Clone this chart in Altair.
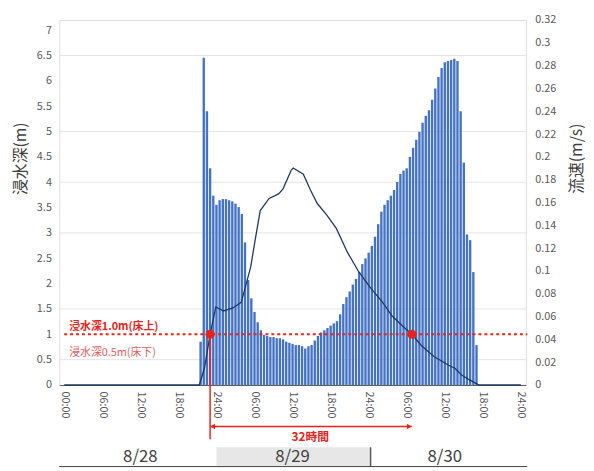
import altair as alt
import pandas as pd
import numpy as np

FONT = "Noto Sans CJK JP"

# --- data -------------------------------------------------------------
# velocity bars (m/s), 30-minute steps, hours from 8/28 00:00
bar_hours = list(np.arange(21.5, 65.01, 0.5))
velocity = [0.038, 0.287, 0.240, 0.190, 0.166, 0.158, 0.162, 0.163, 0.163, 0.162,
            0.161, 0.159, 0.156, 0.150, 0.125, 0.092, 0.076, 0.064, 0.055, 0.048,
            0.044, 0.043, 0.042, 0.042, 0.041, 0.041, 0.040, 0.038, 0.037, 0.036,
            0.035, 0.035, 0.034, 0.032, 0.034, 0.035, 0.039, 0.043, 0.046, 0.048,
            0.050, 0.052, 0.054, 0.056, 0.062, 0.071, 0.077, 0.082, 0.088, 0.093,
            0.099, 0.106, 0.111, 0.116, 0.122, 0.130, 0.141, 0.152, 0.158, 0.162,
            0.166, 0.171, 0.178, 0.185, 0.188, 0.190, 0.200, 0.208, 0.215, 0.222,
            0.230, 0.236, 0.241, 0.250, 0.260, 0.270, 0.278, 0.283, 0.284, 0.285,
            0.286, 0.284, 0.240, 0.195, 0.132, 0.127, 0.099, 0.035]

# inundation depth line (m)
depth_hours = [0, 21.3, 22.1, 23.0, 23.9, 25.1, 26.6, 27.9, 28.6, 29.4, 30.1, 30.9,
               32.3, 33.8, 34.5, 35.8, 36.1, 37.7, 38.8, 39.9, 41.4, 42.9, 44.6,
               46.4, 48.2, 50.2, 51.7, 53.3, 54.8, 56.3, 58.3, 60.6, 61.6, 62.7,
               63.9, 65.4, 72]
depth = [0, 0, 0.33, 1.0, 1.54, 1.46, 1.52, 1.63, 1.95, 2.33, 2.86, 3.44,
         3.68, 3.77, 3.87, 4.24, 4.28, 4.16, 3.85, 3.58, 3.35, 3.09, 2.63,
         2.24, 1.93, 1.63, 1.36, 1.17, 1.0, 0.78, 0.56, 0.39, 0.33, 0.19,
         0.10, 0, 0]

x_ticks = list(range(0, 73, 6))
left_ticks = [i * 0.5 for i in range(15)]
right_ticks = [i * 0.02 for i in range(17)]
grid_values = [0.5, 1.5, 3, 4, 5, 6.5]

threshold = 1.0
cross_hours = [23.0, 54.8]
duration_label = "32時間"
dates = ["8/28", "8/29", "8/30"]
date_centers = [12, 36, 60]

# --- scales / axes ------------------------------------------------------
xs = alt.Scale(domain=[0, 72], nice=False, zero=False)
yl = alt.Scale(domain=[0, 7.2], nice=False)
yr = alt.Scale(domain=[0, 0.32], nice=False)

label_expr = ("datum.value == 0 ? '00:00' : (datum.value % 24 == 0 ? '24:00' : "
              "((datum.value % 24 < 10 ? '0' : '') + (datum.value % 24) + ':00'))")

x_axis = alt.Axis(values=x_ticks, labelExpr=label_expr, labelAngle=90, labelAlign="left",
                  labelBaseline="middle", labelPadding=6, ticks=False, grid=False,
                  domainColor="#595959", domainWidth=1, labelColor="#595959",
                  labelFont=FONT, labelFontSize=11, title=None)

left_axis = alt.Axis(
    orient="left", values=left_ticks, format=".1~f", grid=False, ticks=False,
    domain=False, labelColor="#595959", labelFont=FONT, labelFontSize=11,
    labelPadding=8, title="浸水深(m)", titleFont=FONT, titleFontSize=16,
    titleFontWeight="normal", titleColor="#404040", titleAngle=270,
    titleX=-39, titleY=140, titleAlign="center", titleBaseline="middle")

right_axis = alt.Axis(
    orient="right", values=right_ticks, format=".2~f", grid=False, ticks=False,
    domain=False, labelColor="#595959", labelFont=FONT, labelFontSize=11,
    labelPadding=9, title="流速(m/s)", titleFont=FONT, titleFontSize=16,
    titleFontWeight="normal", titleColor="#404040", titleAngle=270,
    titleX=51, titleY=140, titleAlign="center", titleBaseline="middle")


def X(field):
    return alt.X(field, scale=xs, axis=x_axis)


def YL(field):
    return alt.Y(field, scale=yl, axis=left_axis)


# grid
grid = alt.Chart(pd.DataFrame({"g": grid_values})).mark_rule(
    color="#e4e4e4", strokeWidth=1).encode(
    y=alt.Y("g:Q", scale=yl, axis=None),
    x=alt.value(0), x2=alt.value(473))

# bars
bars = alt.Chart(pd.DataFrame({"h": bar_hours, "v": velocity})).mark_bar(
    color="#4472C4", width=2.4).encode(
    x=X("h:Q"),
    y=alt.Y("v:Q", scale=yr, axis=right_axis))

# depth line
line = alt.Chart(pd.DataFrame({"h": depth_hours, "y": depth})).mark_line(
    color="#1F3864", strokeWidth=1.3).encode(x=X("h:Q"), y=YL("y:Q"))

RED = "#E8231B"

thr = alt.Chart(pd.DataFrame({"h": [0], "h2": [73], "y": [threshold]})).mark_rule(
    color=RED, strokeWidth=2, strokeDash=[3, 3]).encode(
    x=X("h:Q"), x2="h2:Q", y=YL("y:Q"))

lbl1 = alt.Chart(pd.DataFrame({"h": [0.8], "y": [1.15], "t": ["浸水深1.0m(床上)"]})).mark_text(
    align="left", baseline="middle", font=FONT, fontSize=11, fontWeight="bold", color=RED
).encode(x=X("h:Q"), y=YL("y:Q"), text="t:N")
lbl2 = alt.Chart(pd.DataFrame({"h": [0.8], "y": [0.64], "t": ["浸水深0.5m(床下)"]})).mark_text(
    align="left", baseline="middle", font=FONT, fontSize=11, fontWeight="normal", color="#E06060"
).encode(x=X("h:Q"), y=YL("y:Q"), text="t:N")

dots = alt.Chart(pd.DataFrame({"h": cross_hours, "y": [threshold] * 2})).mark_circle(
    color=RED, size=85, opacity=1).encode(x=X("h:Q"), y=YL("y:Q"))

vline = alt.Chart(pd.DataFrame({"h": [cross_hours[0]], "y": [threshold], "y2": [-1.07]})).mark_rule(
    color=RED, strokeWidth=1.5).encode(x=X("h:Q"), y=YL("y:Q"), y2="y2:Q")

arrow = alt.Chart(pd.DataFrame({"h": [cross_hours[0]], "h2": [cross_hours[1]], "y": [-0.82]})).mark_rule(
    color=RED, strokeWidth=1.5).encode(x=X("h:Q"), x2="h2:Q", y=YL("y:Q"))

heads = alt.Chart(pd.DataFrame({"h": [cross_hours[0] + 0.4, cross_hours[1] - 0.4], "y": [-0.82, -0.82],
                                "s": ["triangle-left", "triangle-right"]})).mark_point(
    color=RED, filled=True, size=30, opacity=1).encode(
    x=X("h:Q"), y=YL("y:Q"), shape=alt.Shape("s:N", scale=None))

dur = alt.Chart(pd.DataFrame({"h": [38.8], "y": [-1.02], "t": [duration_label]})).mark_text(
    font=FONT, fontSize=12, fontWeight="bold", color=RED, baseline="middle").encode(
    x=X("h:Q"), y=YL("y:Q"), text="t:N")

box = alt.Chart(pd.DataFrame({"h": [24.0], "h2": [48.3], "y": [-1.23], "y2": [-1.61]})).mark_rect(
    color="#E7E7E7").encode(x=X("h:Q"), x2="h2:Q", y=YL("y:Q"), y2="y2:Q")

box_edge = alt.Chart(pd.DataFrame({"h": [48.3], "y": [-1.23], "y2": [-1.61]})).mark_rule(
    color="#595959", strokeWidth=1.5).encode(x=X("h:Q"), y=YL("y:Q"), y2="y2:Q")

base_line = alt.Chart(pd.DataFrame({"h": [-0.8], "h2": [73], "y": [-1.61]})).mark_rule(
    color="#404040", strokeWidth=1).encode(x=X("h:Q"), x2="h2:Q", y=YL("y:Q"))

date_txt = alt.Chart(pd.DataFrame({"h": date_centers, "y": [-1.43] * 3, "t": dates})).mark_text(
    font=FONT, fontSize=17, color="#404040", baseline="middle").encode(
    x=X("h:Q"), y=YL("y:Q"), text="t:N")

left_layer = alt.layer(line, thr, lbl1, lbl2, dots, vline, arrow, heads, dur,
                       box, box_edge, base_line, date_txt)

chart = alt.layer(grid, bars, left_layer).resolve_scale(y="independent").properties(
    width=473, height=370,
    autosize=alt.AutoSizeParams(type="none"),
    padding={"left": 52, "top": 9, "right": 61, "bottom": 84},
).configure_view(strokeWidth=0, strokeOpacity=0).configure(background="white")

chart.save("out.html", embed_options={"renderer": "svg", "actions": False})
